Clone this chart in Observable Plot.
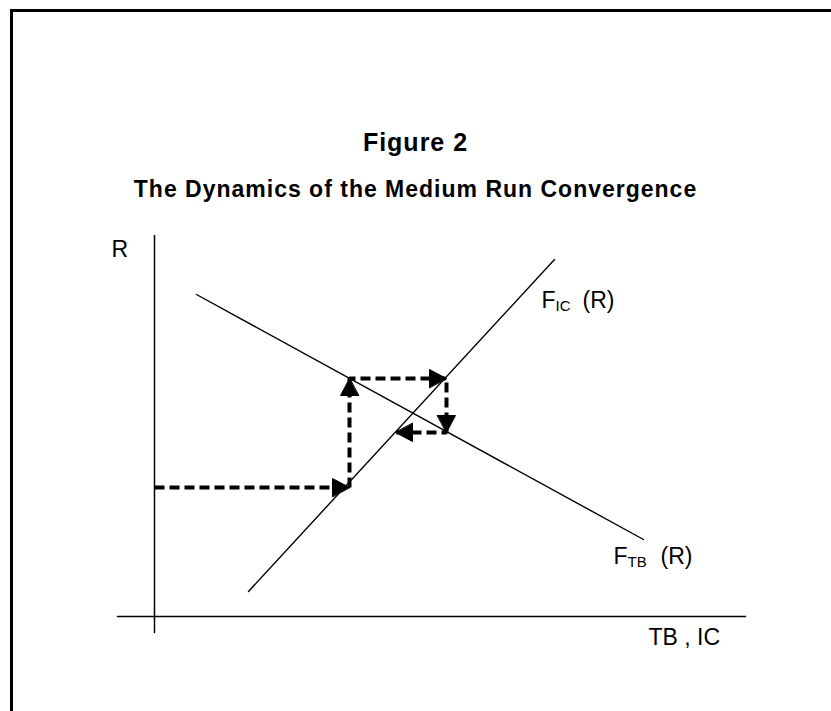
<!DOCTYPE html>
<html>
<head>
<meta charset="utf-8">
<script src="https://cdn.jsdelivr.net/npm/d3@7"></script>
<script src="https://cdn.jsdelivr.net/npm/@observablehq/plot@0.6"></script>
<style>
  html, body { margin: 0; padding: 0; background: #fff; }
  #wrap { position: relative; width: 831px; height: 711px; overflow: hidden;
          font-family: "Liberation Sans", Arial, sans-serif; color: #000; }
  #frame { position: absolute; left: 10px; top: 9px; width: 900px; height: 800px;
           border-left: 3px solid #000; border-top: 3px solid #000; box-sizing: border-box; }
  .ttl { position: absolute; left: 0; width: 831px; text-align: center; font-weight: bold; white-space: nowrap; }
  #t1 { top: 130px; font-size: 25px; line-height: 25px; letter-spacing: 1px; }
  #t2 { top: 178px; font-size: 23px; line-height: 23px; letter-spacing: 1px; }
  #chart { position: absolute; left: 0; top: 0; }
</style>
</head>
<body>
<div id="wrap">
  <div id="frame"></div>
  <div class="ttl" id="t1">Figure 2</div>
  <div class="ttl" id="t2">The Dynamics of the Medium Run Convergence</div>
  <div id="chart"></div>
</div>
<script>
// Axes (abstract units: TB, IC horizontally, R vertically)
const axisH = [{x: -3.7, y: 0}, {x: 59.1, y: 0}];
const axisV = [{x: 0, y: -1.6}, {x: 0, y: 38.1}];
// Schedules
const lineIC = [{x: 9.4, y: 2.5}, {x: 40.0, y: 35.7}];   // F_IC(R)
const lineTB = [{x: 4.2, y: 32.2}, {x: 48.9, y: 7.7}];   // F_TB(R)
// Adjustment path (dashed, with arrows at each step end)
const stepX = [0, 19.5, 19.5, 29.2, 29.2, 24.1];
const stepY = [12.9, 12.9, 23.8, 23.8, 18.4, 18.4];
// Labels
const axisLabels = ["R", "TB , IC"];
const curveMain = ["F", "F"];
const curveSub = ["IC", "TB"];
const curveArg = "(R)";

const steps = stepX.map((x, i) => ({x, y: stepY[i]}));
const heads = steps.slice(1).map((p, i) => {
  const q = steps[i];
  const ang = Math.atan2(p.x - q.x, p.y - q.y) * 180 / Math.PI; // 0 = up, 90 = right
  return {x: p.x, y: p.y, rot: ang};
});

const triangle = {
  draw(context, l, r) {
    context.moveTo(0, -l);
    context.lineTo(-r, 0);
    context.lineTo(r, 0);
    context.closePath();
  }
};

const labelFont = {fontSize: 23, fill: "#000", textAnchor: "start", lineAnchor: "bottom"};
const subFont = {fontSize: 15, fill: "#000", textAnchor: "start", lineAnchor: "bottom", letterSpacing: 2};

const endIC = lineIC[1];
const endTB = lineTB[1];

const chart = Plot.plot({
  width: 831,
  height: 711,
  marginLeft: 154,
  marginRight: 77,
  marginTop: 216,
  marginBottom: 95,
  x: {domain: [0, 60], axis: null},
  y: {domain: [0, 40], axis: null},
  style: {fontFamily: "'Liberation Sans', Arial, sans-serif", background: "transparent", overflow: "visible"},
  marks: [
    Plot.line(axisH, {x: "x", y: "y", stroke: "#000", strokeWidth: 1.5}),
    Plot.line(axisV, {x: "x", y: "y", stroke: "#000", strokeWidth: 1.5}),
    Plot.line(lineIC, {x: "x", y: "y", stroke: "#000", strokeWidth: 1.4}),
    Plot.line(lineTB, {x: "x", y: "y", stroke: "#000", strokeWidth: 1.4}),
    Plot.line(steps, {x: "x", y: "y", stroke: "#000", strokeWidth: 4, strokeDasharray: "10,5", strokeLinejoin: "miter", strokeLinecap: "butt"}),
    Plot.vector(heads, {x: "x", y: "y", rotate: "rot", length: 17, r: 9, anchor: "end", shape: triangle, fill: "#000", stroke: "#000", strokeWidth: 1}),
    // axis labels
    Plot.text([axisV[1]], {x: "x", y: "y", text: () => axisLabels[0], dx: -43, dy: 21, ...labelFont}),
    Plot.text([axisH[1]], {x: "x", y: "y", text: () => axisLabels[1], dx: -97, dy: 28, ...labelFont}),
    // F_IC (R)
    Plot.text([endIC], {x: "x", y: "y", text: () => curveMain[0], dx: -13, dy: 48, ...labelFont}),
    Plot.text([endIC], {x: "x", y: "y", text: () => curveSub[0], dx: 1, dy: 51, ...subFont}),
    Plot.text([endIC], {x: "x", y: "y", text: () => curveArg, dx: 28, dy: 48, ...labelFont}),
    // F_TB (R)
    Plot.text([endTB], {x: "x", y: "y", text: () => curveMain[1], dx: -30, dy: 24, ...labelFont}),
    Plot.text([endTB], {x: "x", y: "y", text: () => curveSub[1], dx: -16, dy: 27, ...subFont}),
    Plot.text([endTB], {x: "x", y: "y", text: () => curveArg, dx: 17, dy: 24, ...labelFont})
  ]
});
document.getElementById("chart").appendChild(chart);
</script>
</body>
</html>
